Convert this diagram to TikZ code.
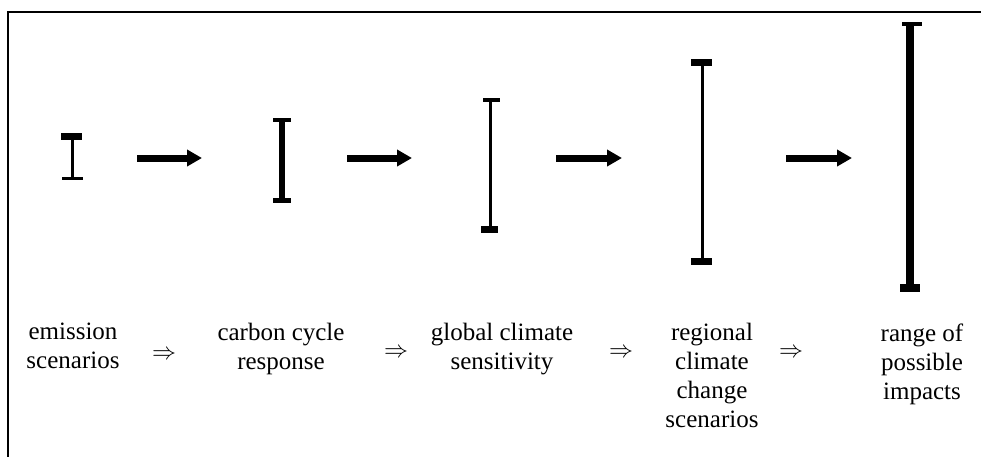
\documentclass[tikz,border=0pt]{standalone}
\usepackage{fontspec}
\setmainfont{Liberation Serif}
\usepackage{tikz}
\usetikzlibrary{arrows.meta, positioning}

\begin{document}
\begin{tikzpicture}[x=0.5pt, y=-0.5pt,
	etiqueta/.style={anchor=north, align=center, inner sep=0pt, font=\fontsize{12.5}{14.5}\selectfont},
	implica/.style={inner sep=0pt, font=\fontsize{13}{15}\selectfont},
	flecha/.style={line width=3.5pt, -{Triangle[length=7.5pt, width=8pt]}}]
	\useasboundingbox (0,0) rectangle (981,457);
	\draw[line width=1.25pt] (981,12) -- (8,12) -- (8,457);
	% barras de incertidumbre
	\draw[line width=1.5pt] (72,136) -- (72,178);
	\fill (61,133) rectangle (82,140);
	\fill (62,176.5) rectangle (83,179.5);
	\draw[line width=3pt] (282,120) -- (282,200);
	\fill (273,118) rectangle (291,122);
	\fill (273,198) rectangle (291,203);
	\draw[line width=1.5pt] (490,100) -- (490,230);
	\fill (483,98) rectangle (500,102);
	\fill (481,226) rectangle (498,233);
	\draw[line width=1.5pt] (702,62) -- (702,261);
	\fill (691,59) rectangle (712,66);
	\fill (691,258) rectangle (712,265);
	\draw[line width=4pt] (910,24) -- (910,288);
	\fill (902,22) rectangle (922,26);
	\fill (900,284) rectangle (920,292);
	% flechas
	\coordinate (s1) at (137,158); \coordinate (e1) at (202,158);
	\coordinate (s2) at (347,158); \coordinate (e2) at (412,158);
	\coordinate (s3) at (556,158); \coordinate (e3) at (622,158);
	\coordinate (s4) at (786,158); \coordinate (e4) at (852,158);
	\draw[flecha] (s1) -- (e1);
	\draw[flecha] (s2) -- (e2);
	\draw[flecha] (s3) -- (e3);
	\draw[flecha] (s4) -- (e4);
	% textos
	\node[etiqueta] (t1) at (73,323) {emission\\scenarios};
	\node[etiqueta] (t2) at (281,323) {carbon cycle\\response};
	\node[etiqueta] (t3) at (502,323) {global climate\\sensitivity};
	\node[etiqueta] (t4) at (712,323) {regional\\climate\\change\\scenarios};
	\node[etiqueta] (t5) at (922,323) {range of\\possible\\impacts};
	\node[implica] (i1) at (164,355) {$\Rightarrow$};
	\node[implica] (i2) at (396,353) {$\Rightarrow$};
	\node[implica] (i3) at (621,353) {$\Rightarrow$};
	\node[implica] (i4) at (791,353) {$\Rightarrow$};
\end{tikzpicture}
\end{document}
